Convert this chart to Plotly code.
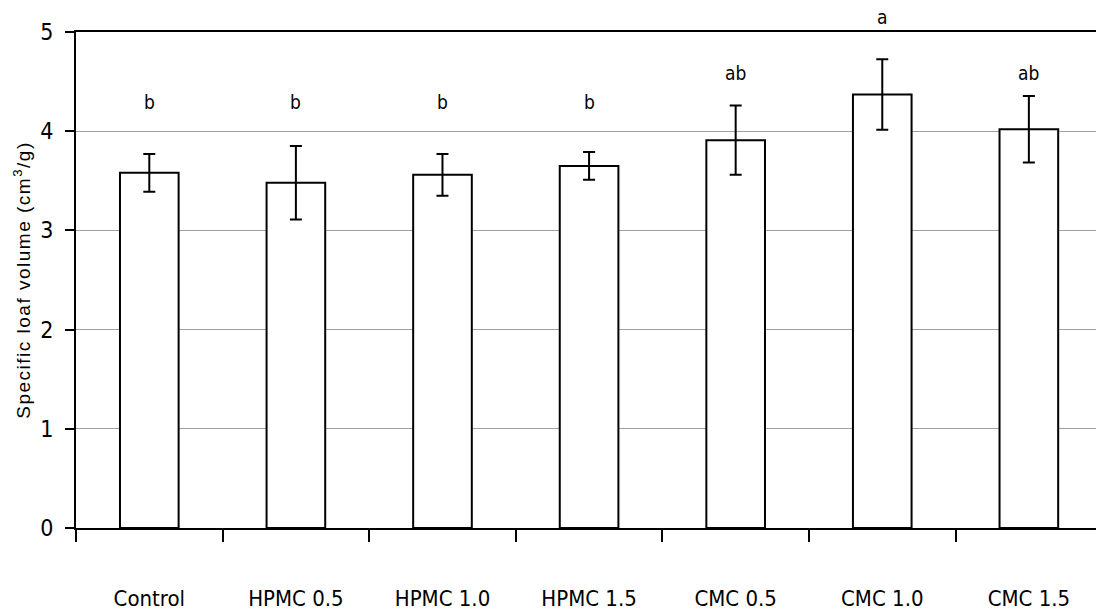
import plotly.graph_objects as go

categories = ["Control", "HPMC 0.5", "HPMC 1.0", "HPMC 1.5", "CMC 0.5", "CMC 1.0", "CMC 1.5"]
means = [3.58, 3.48, 3.56, 3.65, 3.91, 4.37, 4.02]
sds = [0.19, 0.37, 0.21, 0.14, 0.35, 0.355, 0.335]
letters = ["b", "b", "b", "b", "ab", "a", "ab"]
letter_y = [4.29, 4.29, 4.29, 4.29, 4.59, 5.15, 4.59]

YMAX = 5
font_main = "DejaVu Sans Condensed, Liberation Sans Narrow, Liberation Sans, Arial, sans-serif"
font_reg = "Liberation Sans, Arial, sans-serif"

fig = go.Figure()
fig.add_trace(go.Bar(
    x=categories, y=means, width=0.4,
    marker=dict(color="white", line=dict(color="black", width=2)),
    error_y=dict(type="data", array=sds, visible=True, color="black", thickness=2, width=6),
    showlegend=False, hoverinfo="skip",
))

for c, t, yy in zip(categories, letters, letter_y):
    fig.add_annotation(x=c, y=yy / YMAX, text=t, showarrow=False, xref="x", yref="paper",
                       yanchor="middle", font=dict(family=font_main, size=19, color="black"))

fig.update_layout(
    width=1096, height=612,
    margin=dict(l=76, r=0, t=32, b=84),
    paper_bgcolor="white", plot_bgcolor="white",
    font=dict(family=font_reg, color="black"),
)
fig.update_xaxes(
    type="category", range=[-0.5, 6.458],
    showline=True, linecolor="black", linewidth=2, mirror=True,
    ticks="outside", tickson="boundaries", ticklen=12, tickwidth=1.5, tickcolor="black",
    ticklabelstandoff=50,
    tickfont=dict(family=font_main, size=22, color="black"),
    showgrid=False, zeroline=False,
)
fig.update_yaxes(
    range=[0, YMAX], tickvals=[0, 1, 2, 3, 4, 5],
    showline=True, linecolor="black", linewidth=2,
    ticks="outside", ticklen=9, tickwidth=1.5, tickcolor="black",
    ticklabelstandoff=7,
    tickfont=dict(family=font_main, size=23, color="black"),
    showgrid=True, gridcolor="#a0a0a0", gridwidth=1, zeroline=False,
    title=dict(text='<span style="letter-spacing:1.5px">Specific loaf volume (cm<sup>3</sup>/g)</span>',
               font=dict(family=font_reg, size=19, color="black"),
               standoff=5),
)
fig.update_traces(cliponaxis=False)

fig.write_html("out.html")
